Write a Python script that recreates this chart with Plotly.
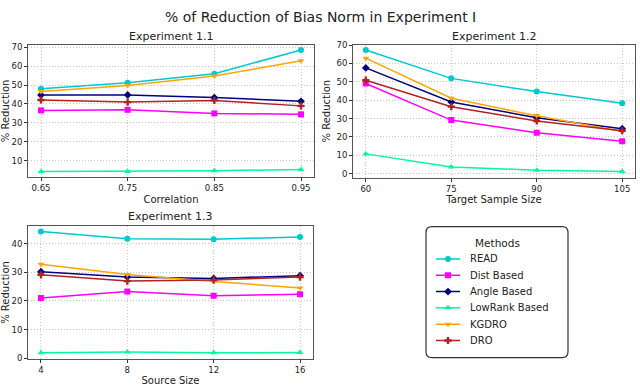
import plotly.graph_objects as go

methods = ["READ", "Dist Based", "Angle Based", "LowRank Based", "KGDRO", "DRO"]
colors = ["#00c8d0", "#ff00ff", "#000080", "#00fa9a", "#ffa500", "#b22222"]
symbols = ["circle", "square", "diamond", "triangle-up", "triangle-down", "cross"]

x_corr = [0.65, 0.75, 0.85, 0.95]
y_exp11 = {
    "READ": [48.1, 51.2, 56.0, 68.6],
    "Dist Based": [36.6, 36.9, 35.0, 34.5],
    "Angle Based": [44.7, 44.8, 43.4, 41.4],
    "LowRank Based": [4.3, 4.3, 4.7, 5.3],
    "KGDRO": [46.6, 49.8, 54.8, 62.9],
    "DRO": [42.1, 41.0, 41.9, 39.0],
}

x_target = [60, 75, 90, 105]
y_exp12 = {
    "READ": [67.3, 51.9, 44.7, 38.3],
    "Dist Based": [49.1, 29.2, 22.3, 17.7],
    "Angle Based": [57.6, 39.0, 30.5, 24.5],
    "LowRank Based": [10.8, 3.7, 1.9, 1.2],
    "KGDRO": [62.9, 41.1, 31.5, 23.0],
    "DRO": [50.9, 36.5, 28.7, 23.4],
}

x_source = [4, 8, 12, 16]
y_exp13 = {
    "READ": [44.2, 41.7, 41.5, 42.3],
    "Dist Based": [21.0, 23.3, 21.8, 22.3],
    "Angle Based": [30.2, 28.3, 27.8, 28.8],
    "LowRank Based": [1.9, 2.2, 1.9, 2.0],
    "KGDRO": [32.8, 29.2, 26.8, 24.5],
    "DRO": [29.1, 26.9, 27.3, 28.3],
}

W, H = 640, 386
def dx(a, b): return [a / W, b / W]
def dy(top, bottom): return [1 - bottom / H, 1 - top / H]

fig = go.Figure()

panels = [
    ("x", "y", x_corr, y_exp11),
    ("x2", "y2", x_target, y_exp12),
    ("x3", "y3", x_source, y_exp13),
]
for xa, ya, xs, data in panels:
    for m, c, s in zip(methods, colors, symbols):
        fig.add_trace(go.Scatter(
            x=xs, y=data[m], mode="lines+markers", name=m,
            xaxis=xa, yaxis=ya, showlegend=False,
            line=dict(color=c, width=1.5),
            marker=dict(symbol=s, size=6, color=c),
        ))

# legend (drawn on its own hidden axis: x in pixels, y in entry index)
for i, (m, c, s) in enumerate(zip(methods, colors, symbols)):
    fig.add_trace(go.Scatter(
        x=[436, 460], y=[i, i], mode="lines", xaxis="x4", yaxis="y4",
        line=dict(color=c, width=1.5), showlegend=False, hoverinfo="skip"))
    fig.add_trace(go.Scatter(
        x=[448], y=[i], mode="markers", xaxis="x4", yaxis="y4",
        marker=dict(symbol=s, size=6, color=c), showlegend=False, hoverinfo="skip"))

axis_common = dict(
    showline=True, linecolor="#555555", linewidth=1, mirror=True,
    ticks="outside", ticklen=3, tickcolor="#333", tickfont=dict(size=8.5, color="#222"),
    showgrid=True, gridcolor="#c8c8c8", griddash="1px,2px", gridwidth=1,
    zeroline=False, title_font=dict(size=10, color="#222"), title_standoff=3,
)
hidden = dict(visible=False, showgrid=False, zeroline=False, fixedrange=True)

annotations = [
    dict(text="% of Reduction of Bias Norm in Experiment I", x=0.5, y=1 - 12 / H,
         xref="paper", yref="paper", showarrow=False, font=dict(size=14, color="#222"),
         xanchor="center", yanchor="middle"),
    dict(text="Experiment 1.1", x=(28 + 314) / 2 / W, y=1 - 32 / H, xref="paper", yref="paper",
         showarrow=False, font=dict(size=11, color="#222"), xanchor="center", yanchor="middle"),
    dict(text="Experiment 1.2", x=(353 + 635) / 2 / W, y=1 - 32 / H, xref="paper", yref="paper",
         showarrow=False, font=dict(size=11, color="#222"), xanchor="center", yanchor="middle"),
    dict(text="Experiment 1.3", x=(28 + 313) / 2 / W, y=1 - 217 / H, xref="paper", yref="paper",
         showarrow=False, font=dict(size=11, color="#222"), xanchor="center", yanchor="middle"),
    dict(text="Methods", x=497, y=-1, xref="x4", yref="y4", showarrow=False,
         font=dict(size=10.5, color="#222"), xanchor="center", yanchor="middle"),
]
for i, m in enumerate(methods):
    annotations.append(dict(text=m, x=468, y=i, xref="x4", yref="y4", showarrow=False,
                            font=dict(size=10, color="#222"), xanchor="left", yanchor="middle"))

fig.update_layout(
    width=W, height=H, margin=dict(l=0, r=0, t=0, b=0),
    plot_bgcolor="white", paper_bgcolor="white",
    font=dict(family="DejaVu Sans", color="#222"),
    showlegend=False,
    xaxis=dict(domain=dx(28, 314), range=[0.635, 0.965], tickvals=x_corr,
               ticktext=["0.65", "0.75", "0.85", "0.95"], title_text="Correlation", anchor="y", **axis_common),
    yaxis=dict(domain=dy(41, 176), range=[1.4, 71.2], tickvals=[10, 20, 30, 40, 50, 60, 70],
               title_text="% Reduction", anchor="x", **axis_common),
    xaxis2=dict(domain=dx(353, 635), range=[57.75, 107.25], tickvals=x_target,
                title_text="Target Sample Size", anchor="y2", **axis_common),
    yaxis2=dict(domain=dy(40.7, 176.7), range=[-2.1, 70.2], tickvals=[0, 10, 20, 30, 40, 50, 60, 70],
                title_text="% Reduction", anchor="x2", **axis_common),
    xaxis3=dict(domain=dx(28, 313), range=[3.4, 16.6], tickvals=x_source,
                title_text="Source Size", anchor="y3", **axis_common),
    yaxis3=dict(domain=dy(226, 362.7), range=[-0.34, 46.2], tickvals=[0, 10, 20, 30, 40],
                title_text="% Reduction", anchor="x3", **axis_common),
    xaxis4=dict(domain=dx(426, 568), range=[426, 568], anchor="y4", **hidden),
    yaxis4=dict(domain=dy(227, 361), range=[6.048, -1.976], anchor="x4", **hidden),
    annotations=annotations,
)

# rounded legend frame
x0, x1, y0, y1 = 426 / W, 568 / W, 1 - 361 / H, 1 - 227 / H
rx, ry = 6 / W, 6 / H
path = (f"M {x0+rx},{y0} L {x1-rx},{y0} Q {x1},{y0} {x1},{y0+ry} L {x1},{y1-ry} "
        f"Q {x1},{y1} {x1-rx},{y1} L {x0+rx},{y1} Q {x0},{y1} {x0},{y1-ry} "
        f"L {x0},{y0+ry} Q {x0},{y0} {x0+rx},{y0} Z")
fig.add_shape(type="path", path=path, xref="paper", yref="paper",
              line=dict(color="#333", width=1.2), fillcolor="rgba(0,0,0,0)", layer="above")

fig.write_html("out.html", config={"displayModeBar": False},
               post_script="document.body.style.margin='0';document.body.style.overflow='hidden';")
